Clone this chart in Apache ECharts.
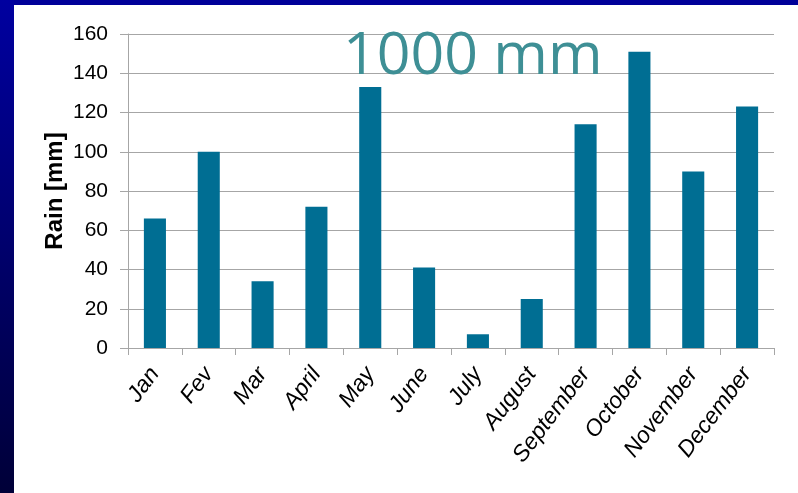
<!DOCTYPE html>
<html>
<head>
<meta charset="utf-8">
<script src="https://cdn.jsdelivr.net/npm/echarts@6/dist/echarts.min.js"></script>
<style>
  html, body { margin: 0; padding: 0; background: #ffffff; }
  #chart { width: 798px; height: 493px; }
</style>
</head>
<body>
<div id="chart"></div>
<script>
// Monthly rainfall (mm)
const months = ['Jan', 'Fev', 'Mar', 'April', 'May', 'June', 'July', 'August',
                'September', 'October', 'November', 'December'];
const rain = [66, 100, 34, 72, 133, 41, 7, 25, 114, 151, 90, 123];
const yTicks = { min: 0, max: 160, interval: 20 };
const totalLabel = '1000 mm';
const axisTitle = 'Rain [mm]';

const chart = echarts.init(document.getElementById('chart'), null, { renderer: 'canvas' });

const gridGray = '#a6a6a6';
const labelFont = '"Liberation Sans", Arial, sans-serif';

chart.setOption({
  backgroundColor: '#ffffff',
  animation: false,
  title: {
    text: totalLabel,
    left: 338,
    top: 23,
    textStyle: {
      color: '#3e8f95',
      fontSize: 59,
      fontWeight: 'normal',
      fontFamily: '"Open Sans", sans-serif'
    }
  },
  // slide frame: blue band along the top and a shaded band on the left
  graphic: [
    {
      type: 'rect', left: 0, top: 0, z: 100,
      shape: { width: 798, height: 5 },
      style: { fill: '#000099' }
    },
    {
      type: 'rect', left: 0, top: 0, z: 100,
      shape: { width: 14, height: 493 },
      style: {
        fill: new echarts.graphic.LinearGradient(0, 0, 0, 1, [
          { offset: 0, color: '#0000a0' },
          { offset: 1, color: '#000038' }
        ])
      }
    }
  ],
  grid: { left: 128, right: 24, top: 34, bottom: 145 },
  xAxis: {
    type: 'category',
    data: months,
    boundaryGap: true,
    axisLine: { lineStyle: { color: gridGray, width: 1 } },
    axisTick: { show: true, length: 7, lineStyle: { color: gridGray } },
    axisLabel: {
      rotate: 53,
      margin: 22,
      color: '#000000',
      fontSize: 23,
      fontStyle: 'italic',
      fontFamily: labelFont,
      interval: 0
    }
  },
  yAxis: {
    type: 'value',
    min: yTicks.min,
    max: yTicks.max,
    interval: yTicks.interval,
    name: axisTitle,
    nameLocation: 'middle',
    nameGap: 61,
    nameMoveOverlap: false,
    nameTextStyle: {
      color: '#000000',
      fontSize: 24,
      fontWeight: 'bold',
      fontFamily: labelFont
    },
    axisLine: { show: true, lineStyle: { color: gridGray, width: 1 } },
    axisTick: { show: true, length: 8, lineStyle: { color: gridGray } },
    splitLine: { show: true, lineStyle: { color: gridGray, width: 1 } },
    axisLabel: {
      margin: 20,
      color: '#000000',
      fontSize: 21,
      fontFamily: labelFont
    }
  },
  series: [{
    type: 'bar',
    data: rain,
    barWidth: '41%',
    itemStyle: { color: '#006e93' }
  }]
});
</script>
</body>
</html>
